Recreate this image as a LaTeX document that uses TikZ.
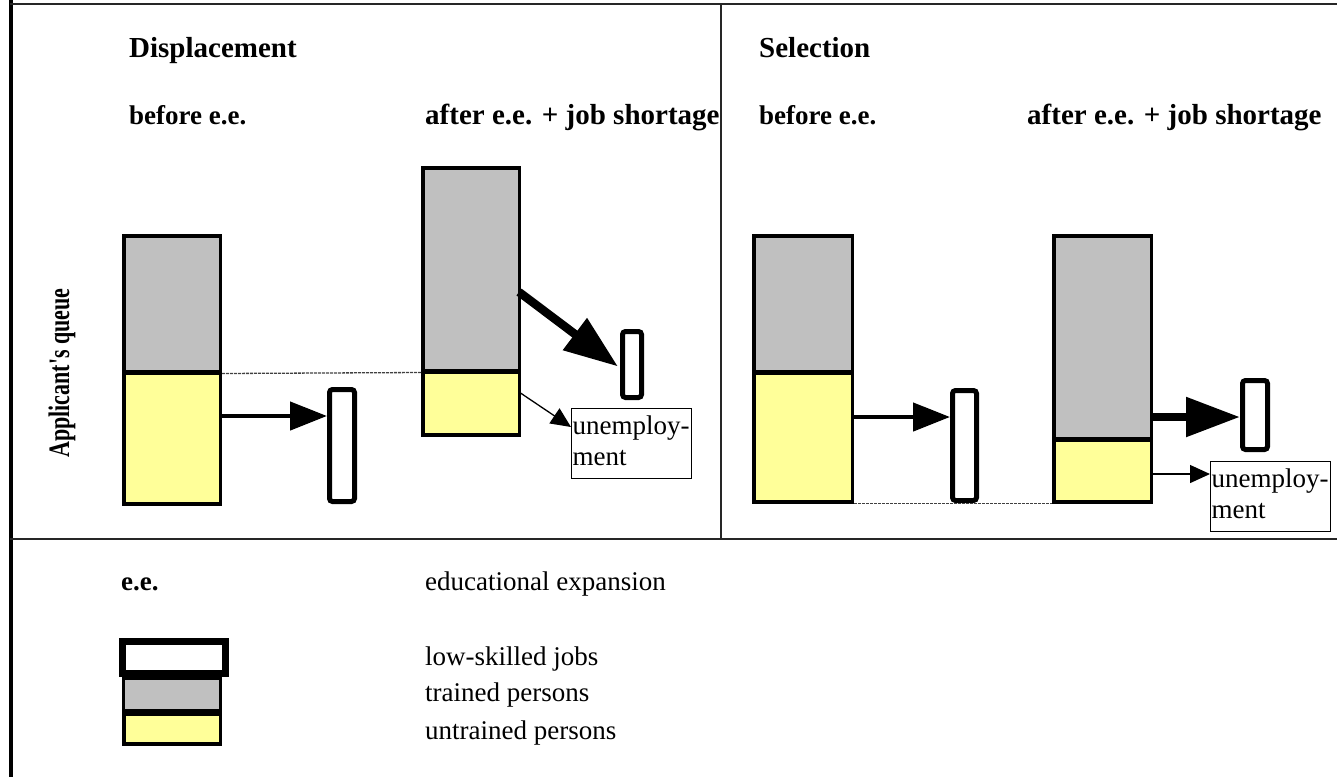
\documentclass[tikz,border=0pt]{standalone}
\usepackage{fontspec}
\setmainfont{Liberation Serif}
\usetikzlibrary{arrows.meta,calc}
\definecolor{qgray}{HTML}{C0C0C0}
\definecolor{qyellow}{HTML}{FFFF99}
\tikzset{
  part/.style={draw, line width=3.5pt, minimum width=#1, inner sep=0pt, anchor=north west},
  grayp/.style={part=#1, fill=qgray},
  yellowp/.style={part=#1, fill=qyellow},
  jobbox/.style={draw, line width=5pt, rounded corners=3pt, fill=white, inner sep=0pt},
  ubox/.style={draw, line width=1.2pt, fill=white, anchor=north west, text width=118pt, inner xsep=1pt, inner ysep=0pt, minimum height=70pt, font=\fontsize{27}{31}\selectfont},
  head/.style={font=\fontsize{29}{33}\selectfont\bfseries, anchor=base west, inner sep=0pt},
  sub/.style={font=\fontsize{27}{31}\selectfont\bfseries, anchor=base west, inner sep=0pt},
  subwide/.style={font=\fontsize{29}{33}\selectfont\bfseries, anchor=base west, inner sep=0pt},
  txt/.style={font=\fontsize{27}{31}\selectfont, anchor=base west, inner sep=0pt},
  medarrow/.style={line width=4.5pt, -{Triangle[length=37pt, width=28pt]}},
  bigarrow/.style={line width=8.5pt, -{Triangle[length=54pt, width=38pt]}},
  thinarrow/.style={line width=1.3pt, -{Triangle[length=20pt, width=18pt]}},
  levelline/.style={black!75, line width=1.3pt, dash pattern=on 3pt off 1pt},
  frameline/.style={line width=1.5pt, black!85},
}
\newcommand{\twoline}{\begin{tabular}{@{}l@{}}unemploy-\\ment\end{tabular}}
\begin{document}
\begin{tikzpicture}[x=1pt, y=-1pt]
\useasboundingbox (0,0) rectangle (1337,777);
% frame
\draw[line width=4pt] (10.5,0) -- (10.5,777);
\draw[frameline] (10,4) -- (1337,4);
\draw[frameline] (10,539) -- (1337,539);
\draw[frameline] (721,4) -- (721,539);

% headings
\node[head] (hdisp) at (129,57) {Displacement};
\node[head] (hsel) at (759,57) {Selection};
\node[sub] (hd1) at (129,124) {before e.e.};
\node[subwide] (hd2) at (425,124) {after e.e. + job shortage};
\node[sub] (hs1) at (759,124) {before e.e.};
\node[subwide] (hs2) at (1027,124) {after e.e. + job shortage};
\node[font=\fontsize{22}{26}\selectfont\bfseries, rotate=90, yscale=1.35, inner sep=0pt] (queue) at (62,373) {Applicant\textquotesingle s queue};

% ---------- Displacement ----------
\node[grayp=96.5pt, minimum height=136pt] (d1g) at (122,234) {};
\node[yellowp=96.5pt, minimum height=132pt] (d1y) at (122,370) {};
\draw[line width=2pt] (d1g.south west) -- (d1g.south east);
\node[jobbox, minimum width=25pt, minimum height=112pt] (j1) at (342,445.5) {};
\coordinate (a1s) at ($(d1y.north east)+(0,46)$);
\draw[medarrow] (a1s) -- (a1s -| j1.west);

\node[grayp=96.5pt, minimum height=203pt] (d2g) at (421,166) {};
\node[yellowp=96.5pt, minimum height=64pt] (d2y) at (421,369) {};
\draw[line width=2pt] (d2g.south west) -- (d2g.south east);
\node[jobbox, minimum width=19pt, minimum height=66pt] (j2) at (632,364.5) {};
\node[ubox] (u1) at (571,408) {\twoline};
\coordinate (a2s) at ($(d2g.north east)+(-2,126)$);
\coordinate (a2e) at ($(j2.west)+(-2,2)$);
\draw[bigarrow] (a2s) -- (a2e);
\coordinate (a3s) at ($(d2y.north east)+(-2,23)$);
\coordinate (a3e) at ($(u1.north west)+(0,19)$);
\draw[thinarrow] (a3s) -- (a3e);
\draw[levelline] (d1g.south east) -- (d2g.south west);

% ---------- Selection ----------
\node[grayp=98.5pt, minimum height=136pt] (s1g) at (752,234) {};
\node[yellowp=98.5pt, minimum height=130pt] (s1y) at (752,370) {};
\draw[line width=2pt] (s1g.south west) -- (s1g.south east);
\node[jobbox, minimum width=24pt, minimum height=110pt] (j3) at (964.5,445.5) {};
\coordinate (a4s) at ($(s1y.north east)+(0,47)$);
\draw[medarrow] (a4s) -- (a4s -| j3.west);

\node[grayp=97.5pt, minimum height=203pt] (s2g) at (1052,234) {};
\node[yellowp=97.5pt, minimum height=63pt] (s2y) at (1052,437) {};
\draw[line width=2pt] (s2g.south west) -- (s2g.south east);
\node[jobbox, minimum width=25pt, minimum height=69pt] (j4) at (1255,415) {};
\node[ubox] (u2) at (1210,461) {\twoline};
\coordinate (a5s) at ($(s2g.north east)+(0,183)$);
\draw[bigarrow] (a5s) -- (a5s -| j4.west);
\coordinate (a6s) at ($(s2y.north east)+(0,37)$);
\draw[thinarrow] (a6s) -- (a6s -| u2.west);
\draw[levelline] (s1y.south east) -- (s2y.south west);

% ---------- Legend ----------
\node[sub] (lee) at (121,590) {e.e.};
\node[txt] (leet) at (425,590) {educational expansion};
\node[draw, line width=7pt, fill=white, minimum width=103pt, minimum height=32pt, inner sep=0pt, anchor=north west] (lj) at (119,638) {};
\node[grayp=97pt, minimum height=32pt, line width=3pt] (lg) at (122,677) {};
\node[yellowp=96.5pt, minimum height=30pt] (ly) at (122,712) {};
\node[txt] (ljt) at (425,665) {low-skilled jobs};
\node[txt] (lgt) at (425,701) {trained persons};
\node[txt] (lyt) at (425,739) {untrained persons};
\end{tikzpicture}
\end{document}
